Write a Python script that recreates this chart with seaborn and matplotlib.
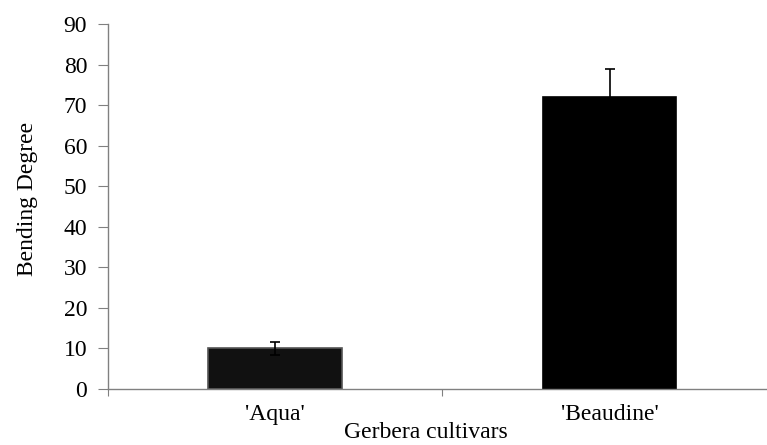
import matplotlib
matplotlib.use("Agg")

import numpy as np
import pandas as pd
import seaborn as sns
import matplotlib.pyplot as plt

# Data
cultivars = ["'Aqua'", "'Beaudine'"]
bending = [10.0, 72.0]
bending_err = [1.5, 7.0]
bar_colors = ["#111111", "#000000"]

df = pd.DataFrame({"cultivar": cultivars, "bending": bending})

sns.set_style("white")
plt.rcParams["font.family"] = ["Liberation Serif", "DejaVu Serif"]
plt.rcParams["text.color"] = "black"
plt.rcParams["axes.labelcolor"] = "black"
plt.rcParams["xtick.color"] = "black"
plt.rcParams["ytick.color"] = "black"

fig = plt.figure(figsize=(7.67, 4.45), dpi=100)
ax = fig.add_axes([0.1408, 0.1258, 0.872, 0.8202])

sns.barplot(data=df, x="cultivar", y="bending", hue="cultivar", palette=bar_colors,
            errorbar=None, width=0.4, legend=False, ax=ax)
for patch, ec in zip(ax.patches, ["#555555", "#000000"]):
    patch.set_edgecolor(ec)
    patch.set_linewidth(1.2)

ax.errorbar(np.arange(len(cultivars)), bending, yerr=bending_err, fmt="none",
            ecolor="black", elinewidth=1.2, capsize=3.3, capthick=1.2, zorder=5)

ax.set_ylim(0, 90)
ax.set_xlim(-0.5, 1.5)
ax.set_yticks(np.arange(0, 91, 10))
ax.tick_params(axis="y", labelsize=17, length=7, width=0.8, direction="out", left=True, pad=8,
               color="#808080")
ax.set_xticks([0, 1])
ax.set_xticklabels(cultivars, fontsize=17)
ax.tick_params(axis="x", length=0, pad=11)
ax.set_xticks([-0.5, 0.5, 1.5], minor=True)
ax.tick_params(axis="x", which="minor", length=5, width=0.8, direction="out", bottom=True,
               color="#808080")

for side in ["top", "right"]:
    ax.spines[side].set_visible(False)
for side in ["left", "bottom"]:
    ax.spines[side].set_color("#808080")
    ax.spines[side].set_linewidth(1.0)

ax.set_ylabel("Bending Degree", fontsize=17)
ax.set_xlabel("Gerbera cultivars", fontsize=17)
ax.yaxis.set_label_coords(-0.105, 0.52)
ax.xaxis.set_label_coords(0.475, -0.09)

fig.savefig("out.png", dpi=100)
